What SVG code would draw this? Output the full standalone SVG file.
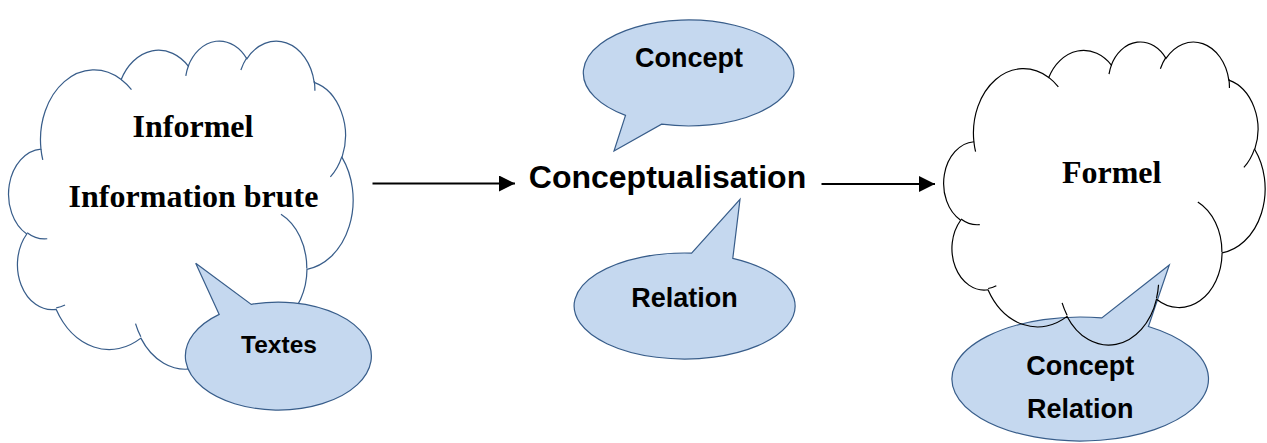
<svg xmlns="http://www.w3.org/2000/svg" xmlns:xlink="http://www.w3.org/1999/xlink" width="1267" height="443" viewBox="0 0 1267 443">
  <style>
    .bubble { fill: #C5D8EF; stroke: #385D8A; stroke-width: 1.2; stroke-linejoin: miter; }
    .serif { font-family: "Liberation Serif", "Times New Roman", serif; font-weight: bold; font-size: 32px; fill: #000; text-anchor: middle; }
    .sans { font-family: "Liberation Sans", Arial, sans-serif; font-weight: bold; fill: #000; text-anchor: middle; }
    .link { stroke: #000; stroke-width: 2; fill: none; }
  </style>
  <defs>
    <!-- cloud outline in a 43200 x 43200 unit box -->
    <path id="cloudOuter" d="M3900,14370 A6753,9190 0 0 1 14005,5202 A5333,7267 0 0 1 22454,3432 A4365,5945 0 0 1 29831,2480 A4857,6595 0 0 1 38316,5575 A5333,7273 0 0 1 41817,15458 A6775,9220 0 0 1 37403,30203 A5785,7867 0 0 1 28555,36813 A6752,9215 0 0 1 16480,39265 A7720,10543 0 0 1 5805,35472 A4360,5918 0 0 1 2114,25549 A4345,5945 0 0 1 3900,14370 Z"/>
    <!-- short inner arcs between the lobes -->
    <path id="cloudInner" fill="none" d="M4693,26177 A4345,5945 0 0 1 2160,25380 M6928,34899 A4360,5918 0 0 1 5820,35281 M16478,39090 A6752,9215 0 0 1 15810,37348 M28827,34751 A6752,9215 0 0 1 28560,36660 M34129,22954 A5785,7867 0 0 1 37380,30090 M41798,15354 A5333,7273 0 0 1 40350,18030 M38324,5426 A4857,6595 0 0 1 38400,6690 M29078,3952 A4857,6595 0 0 1 29820,2339 M22141,4720 A4365,5945 0 0 1 22500,3330 M14000,5192 A6753,9190 0 0 1 15300,6541 M4127,15789 A6753,9190 0 0 1 3900,14371"/>
    <marker id="arrowhead" viewBox="0 0 10 10" refX="10" refY="5" markerWidth="8" markerHeight="8" markerUnits="strokeWidth" orient="auto">
      <path d="M0,0 L10,5 L0,10 Z" fill="#000"/>
    </marker>
  </defs>

  <!-- Informel cloud (stroke width given in box units, about 1.2px after scaling) -->
  <g id="informel">
    <g transform="translate(10,40) scale(0.0079398,0.0075926)" stroke="#385D8A" stroke-width="155">
      <use xlink:href="#cloudOuter" fill="#FFFFFF"/>
      <use xlink:href="#cloudInner"/>
    </g>
    <text class="serif" x="193" y="137">Informel</text>
    <text class="serif" x="193.5" y="207">Information brute</text>
  </g>

  <!-- Textes bubble -->
  <g id="textes">
    <path class="bubble" d="M251.3,304.4 A93,54 0 1 1 219.2,314.4 L195.7,263.3 Z"/>
    <text class="sans" x="279" y="353.3" font-size="24.5">Textes</text>
  </g>

  <!-- Conceptualisation with its two bubbles -->
  <g id="conceptualisation">
    <text class="sans" x="667.5" y="188.3" font-size="32">Conceptualisation</text>
  </g>
  <g id="concept">
    <path class="bubble" d="M625.5,115.4 A105.3,53 0 1 1 661.6,124.2 L614,151 Z"/>
    <text class="sans" x="689" y="66.7" font-size="27">Concept</text>
  </g>
  <g id="relation">
    <path class="bubble" d="M732.8,258.3 A110.5,53 0 1 1 691.6,253.1 L740,199.3 Z"/>
    <text class="sans" x="684.5" y="307.3" font-size="27">Relation</text>
  </g>

  <!-- Concept / Relation bubble under the Formel cloud -->
  <g id="concept-relation">
    <path class="bubble" d="M1148.4,326.5 A128.3,62 0 1 1 1101.8,317.9 L1169.3,265 Z"/>
    <text class="sans" x="1080.3" y="375" font-size="27">Concept</text>
    <text class="sans" x="1080.3" y="418.3" font-size="27">Relation</text>
  </g>

  <!-- Formel cloud (outline only, drawn over the bubble) -->
  <g id="formel">
    <g transform="translate(945,41) scale(0.0074074,0.0070139)" stroke="#000000" stroke-width="160">
      <use xlink:href="#cloudOuter" fill="none"/>
      <use xlink:href="#cloudInner"/>
    </g>
    <text class="serif" x="1111.7" y="182.5">Formel</text>
  </g>

  <!-- connectors -->
  <g id="connectors">
    <line class="link" x1="372.5" y1="183.5" x2="515" y2="183.5" marker-end="url(#arrowhead)"/>
    <line class="link" x1="821.5" y1="184" x2="935" y2="184" marker-end="url(#arrowhead)"/>
  </g>
</svg>
